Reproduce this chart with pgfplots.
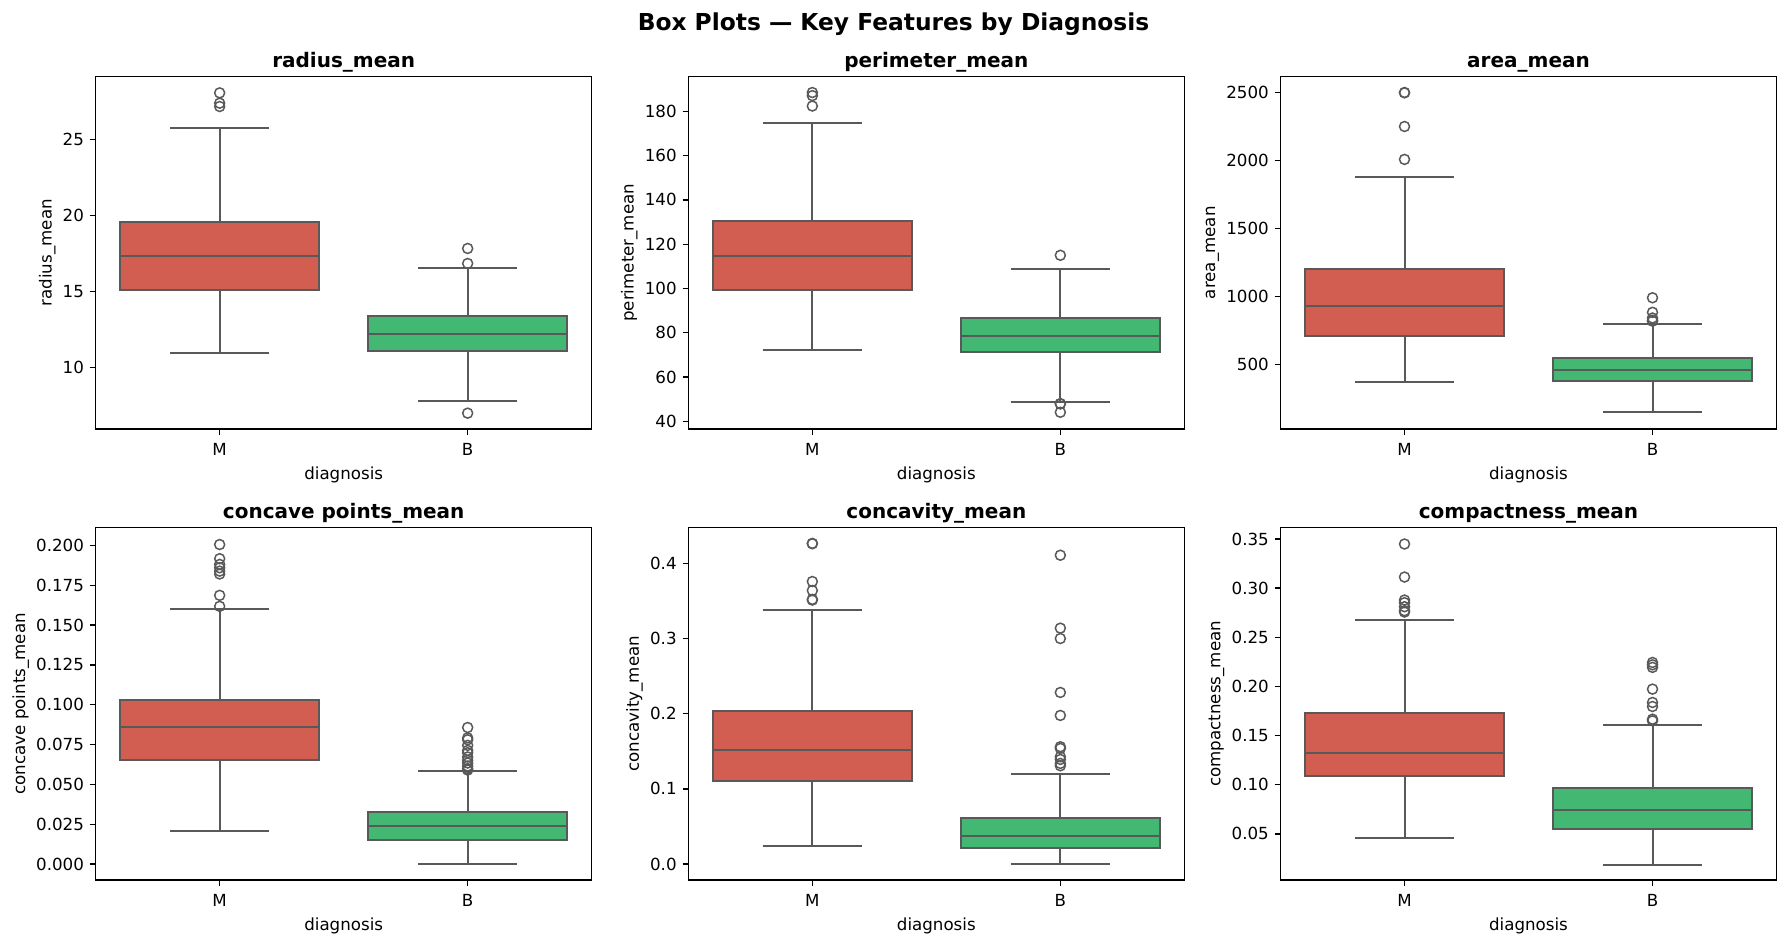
\documentclass[border=0pt]{standalone}
\usepackage{fontspec}
\setmainfont{DejaVu Sans}
\usepackage{pgfplots}
\pgfplotsset{compat=1.18}
\usepgfplotslibrary{statistics}
\definecolor{mred}{RGB}{210,94,82}
\definecolor{bgreen}{RGB}{66,184,115}
\definecolor{linegray}{RGB}{89,89,89}
\pgfplotsset{
  sbstyle/.style={
    scale only axis, width=297.6pt, height=211.5pt,
    anchor=south west,
    xmin=-0.5, xmax=1.5, xtick={0,1}, xticklabels={M,B},
    tick align=outside, tick pos=left,
    major tick length=3.5pt,
    tick style={black, line width=0.8pt},
    axis line style={line width=0.8pt, black},
    tick label style={font=\fontsize{10}{12}\selectfont},
    xticklabel style={yshift=-1.5pt},
    label style={font=\fontsize{10}{12}\selectfont},
    ylabel shift=-2.5pt,
    title style={font=\bfseries\fontsize{12}{14}\selectfont, at={(0.5,1)}, anchor=base, yshift=-0.5pt},
    xlabel=diagnosis,
    scaled y ticks=false,
    boxplot/draw direction=y,
    /pgf/number format/assume math mode=true,
    /pgf/number format/1000 sep={},
  },
  mbox/.style={fill=mred, draw=linegray, line width=1.2pt, mark=o, mark size=3pt,
    mark options={fill=none, draw=linegray, line width=0.9pt}},
  bbox/.style={fill=bgreen, draw=linegray, line width=1.2pt, mark=o, mark size=3pt,
    mark options={fill=none, draw=linegray, line width=0.9pt}},
}
\begin{document}
\begin{tikzpicture}
\path[use as bounding box] (0,0) rectangle (1072.2pt,567.6pt);
\node[anchor=base, font=\bfseries\fontsize{14}{17}\selectfont] at (536.1pt,549pt) {Box Plots — Key Features by Diagnosis};

% radius_mean
\begin{axis}[sbstyle, at={(57.4pt,310.2pt)}, title={radius\_mean}, ylabel={radius\_mean},
  ymin=5.925, ymax=29.17, ytick={10,15,20,25}]
\addplot[mbox, boxplot prepared={draw position=0, lower whisker=10.94, lower quartile=15.11, median=17.32, upper quartile=19.56, upper whisker=25.75, box extend=0.8, whisker extend=0.4}]
  table[row sep=\\, y index=0] {v\\ 27.19\\ 27.41\\ 28.09\\};
\addplot[bbox, boxplot prepared={draw position=1, lower whisker=7.74, lower quartile=11.10, median=12.19, upper quartile=13.38, upper whisker=16.54, box extend=0.8, whisker extend=0.4}]
  table[row sep=\\, y index=0] {v\\ 17.83\\ 16.84\\ 6.97\\};
\end{axis}

% perimeter_mean
\begin{axis}[sbstyle, at={(413.0pt,310.2pt)}, title={perimeter\_mean}, ylabel={perimeter\_mean},
  ymin=36.55, ymax=195.74, ytick={40,60,80,100,120,140,160,180}]
\addplot[mbox, boxplot prepared={draw position=0, lower whisker=72.3, lower quartile=99.3, median=114.5, upper quartile=130.3, upper whisker=174.6, box extend=0.8, whisker extend=0.4}]
  table[row sep=\\, y index=0] {v\\ 182.4\\ 187.1\\ 188.5\\};
\addplot[bbox, boxplot prepared={draw position=1, lower whisker=48.9, lower quartile=71.4, median=78.6, upper quartile=86.7, upper whisker=108.6, box extend=0.8, whisker extend=0.4}]
  table[row sep=\\, y index=0] {v\\ 115.0\\ 48.0\\ 47.9\\ 44.1\\};
\end{axis}

% area_mean
\begin{axis}[sbstyle, at={(768.3pt,310.2pt)}, title={area\_mean}, ylabel={area\_mean},
  ymin=25.6, ymax=2618.9, ytick={500,1000,1500,2000,2500}]
\addplot[mbox, boxplot prepared={draw position=0, lower whisker=370, lower quartile=708, median=933, upper quartile=1204, upper whisker=1879, box extend=0.8, whisker extend=0.4}]
  table[row sep=\\, y index=0] {v\\ 2009\\ 2251\\ 2499\\ 2501\\};
\addplot[bbox, boxplot prepared={draw position=1, lower whisker=150, lower quartile=382, median=463, upper quartile=551, upper whisker=800, box extend=0.8, whisker extend=0.4}]
  table[row sep=\\, y index=0] {v\\ 991\\ 884\\ 842\\ 826\\ 819\\};
\end{axis}

% concave points_mean
\begin{axis}[sbstyle, at={(57.4pt,39.6pt)}, title={concave points\_mean}, ylabel={concave points\_mean},
  ymin=-0.01006, ymax=0.2113, ytick={0,0.025,0.05,0.075,0.1,0.125,0.15,0.175,0.2},
  yticklabel style={/pgf/number format/.cd, fixed, fixed zerofill, precision=3}]
\addplot[mbox, boxplot prepared={draw position=0, lower whisker=0.02065, lower quartile=0.0655, median=0.0863, upper quartile=0.1032, upper whisker=0.1604, box extend=0.8, whisker extend=0.4}]
  table[row sep=\\, y index=0] {v\\ 0.2006\\ 0.1917\\ 0.1881\\ 0.1860\\ 0.1839\\ 0.1821\\ 0.1687\\ 0.1618\\};
\addplot[bbox, boxplot prepared={draw position=1, lower whisker=0, lower quartile=0.01502, median=0.02377, upper quartile=0.03253, upper whisker=0.0584, box extend=0.8, whisker extend=0.4}]
  table[row sep=\\, y index=0] {v\\ 0.0857\\ 0.0792\\ 0.0780\\ 0.0745\\ 0.0713\\ 0.0699\\ 0.0672\\ 0.0651\\ 0.0634\\ 0.0615\\ 0.0599\\ 0.0590\\};
\end{axis}

% concavity_mean
\begin{axis}[sbstyle, at={(413.0pt,39.6pt)}, title={concavity\_mean}, ylabel={concavity\_mean},
  ymin=-0.0213, ymax=0.448, ytick={0,0.1,0.2,0.3,0.4},
  yticklabel style={/pgf/number format/.cd, fixed, fixed zerofill, precision=1}]
\addplot[mbox, boxplot prepared={draw position=0, lower whisker=0.0244, lower quartile=0.1104, median=0.1517, upper quartile=0.2035, upper whisker=0.3384, box extend=0.8, whisker extend=0.4}]
  table[row sep=\\, y index=0] {v\\ 0.4264\\ 0.4268\\ 0.3761\\ 0.3641\\ 0.3514\\ 0.3523\\};
\addplot[bbox, boxplot prepared={draw position=1, lower whisker=0, lower quartile=0.0217, median=0.0373, upper quartile=0.0608, upper whisker=0.1202, box extend=0.8, whisker extend=0.4}]
  table[row sep=\\, y index=0] {v\\ 0.4111\\ 0.3140\\ 0.3002\\ 0.2284\\ 0.1978\\ 0.1561\\ 0.1539\\ 0.1428\\ 0.1392\\ 0.1339\\ 0.1308\\};
\end{axis}

% compactness_mean
\begin{axis}[sbstyle, at={(768.3pt,39.6pt)}, title={compactness\_mean}, ylabel={compactness\_mean},
  ymin=0.0031, ymax=0.3617, ytick={0.05,0.1,0.15,0.2,0.25,0.3,0.35},
  yticklabel style={/pgf/number format/.cd, fixed, fixed zerofill, precision=2}]
\addplot[mbox, boxplot prepared={draw position=0, lower whisker=0.0459, lower quartile=0.1094, median=0.1325, upper quartile=0.1725, upper whisker=0.2672, box extend=0.8, whisker extend=0.4}]
  table[row sep=\\, y index=0] {v\\ 0.3449\\ 0.3113\\ 0.2879\\ 0.2852\\ 0.2811\\ 0.2770\\ 0.2757\\};
\addplot[bbox, boxplot prepared={draw position=1, lower whisker=0.0188, lower quartile=0.0554, median=0.0744, upper quartile=0.0972, upper whisker=0.1603, box extend=0.8, whisker extend=0.4}]
  table[row sep=\\, y index=0] {v\\ 0.2244\\ 0.2220\\ 0.2194\\ 0.1973\\ 0.1837\\ 0.1796\\ 0.1667\\ 0.1650\\};
\end{axis}
\end{tikzpicture}
\end{document}
